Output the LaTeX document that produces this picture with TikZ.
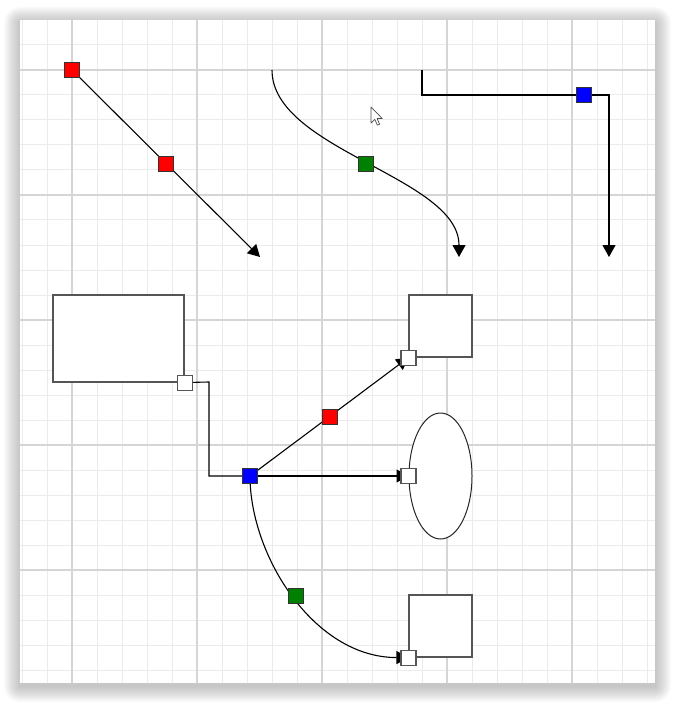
\documentclass[tikz,border=0pt]{standalone}
\usetikzlibrary{arrows.meta,shapes.geometric,calc}
\pgfdeclarelayer{gridlayer}
\pgfdeclarelayer{edgelayer}
\pgfsetlayers{gridlayer,edgelayer,main}
\definecolor{minorgrid}{HTML}{EBEBEB}
\definecolor{majorgrid}{HTML}{D5D5D5}
\definecolor{shapeline}{HTML}{555555}
\definecolor{hred}{HTML}{FF0000}
\definecolor{hgreen}{HTML}{008000}
\definecolor{hblue}{HTML}{0000FF}
\tikzset{
  minorline/.style={draw=minorgrid, line width=1pt},
  majorline/.style={draw=majorgrid, line width=1.3pt},
  handle/.style={rectangle, draw=black!80, line width=0.9pt, minimum size=15pt, inner sep=0pt},
  portbox/.style={rectangle, draw=shapeline, fill=white, line width=1.1pt, minimum size=15pt, inner sep=0pt},
  shapebox/.style={rectangle, draw=shapeline, fill=white, line width=1.1pt, inner sep=0pt},
  conn/.style={draw=black, line width=1.1pt},
  tipped/.style={-{Triangle[length=12pt,width=13pt]}},
}
\begin{document}
\begin{tikzpicture}[x=1pt,y=-1pt]
\useasboundingbox (0,0) rectangle (675,703);
\begin{pgfonlayer}{gridlayer}
  % shadow
  \foreach \i in {1,...,16}
    \fill[black, opacity=0.014, rounded corners=\i pt] ({20-\i},{20-\i+3}) rectangle ({655+\i},{683+\i+3});
  \fill[white] (20,20) rectangle (655,683);
  % grid
  \foreach \x in {22,47,...,647} \draw[minorline] (\x,20) -- (\x,683);
  \foreach \y in {45,70,...,670} \draw[minorline] (20,\y) -- (655,\y);
  \foreach \x in {72,197,322,447,572} \draw[majorline] (\x,20) -- (\x,683);
  \foreach \y in {70,195,320,445,570} \draw[majorline] (20,\y) -- (655,\y);
\end{pgfonlayer}

% shapes
\node[shapebox, minimum width=131pt, minimum height=87pt] (ra) at (118.5,338.5) {};
\node[shapebox, minimum width=63pt, minimum height=62pt] (rt) at (440.5,326) {};
\node[ellipse, draw=black!85, fill=white, line width=1pt, minimum width=63pt, minimum height=126pt, inner sep=0pt] (el) at (440.5,476) {};
\node[shapebox, minimum width=63pt, minimum height=62pt] (rb) at (440.5,626) {};

% ports
\node[portbox] (pa) at (ra.south east) {};
\node[portbox] (pt) at (rt.south west) {};
\node[portbox] (pe) at (el.west) {};
\node[portbox] (pb) at (rb.south west) {};

% handles
\node[handle, fill=hred] (h1) at (72,70) {};
\node[handle, fill=hred] (h2) at (166,163.5) {};
\node[handle, fill=hgreen] (h3) at (365.5,163.5) {};
\node[handle, fill=hblue] (h4) at (584,95) {};
\node[handle, fill=hblue] (hb) at (250,476) {};
\node[handle, fill=hred] (hr) at (329.5,416.5) {};
\node[handle, fill=hgreen] (hg) at (296,596) {};

% free ends
\coordinate (e1) at (260,257);
\coordinate (s2) at (272,70);
\coordinate (e2) at (459,257);
\coordinate (s3) at (422,70);
\coordinate (e3) at (609,257);
\coordinate (k1) at (209,382);

\begin{pgfonlayer}{edgelayer}
  \draw[conn, tipped] (h1.center) -- (e1);
  \draw[conn, tipped] (s2) .. controls +(0,80) and +(0,-80) .. (e2);
  \draw[conn, tipped] (s3) |- (h4.center) -| (e3);
  \draw[conn] (pa.center) -- (k1) |- (hb.center);
  \draw[conn, tipped] (hb.center) -- (pt.center);
  \draw[conn, tipped] (hb.center) -- (pe.center);
  \draw[conn, tipped] (hb.center) .. controls +(0,79) and +(-95,0) .. (pb.center);
\end{pgfonlayer}

% mouse pointer
\draw[fill=white, draw=black!70, line width=0.7pt, line join=round]
  (371,107) -- ++(0,16) -- ++(3.8,-3.6) -- ++(2.6,5.8) -- ++(2.2,-1) -- ++(-2.5,-5.6) -- ++(5.2,0) -- cycle;
\end{tikzpicture}
\end{document}
